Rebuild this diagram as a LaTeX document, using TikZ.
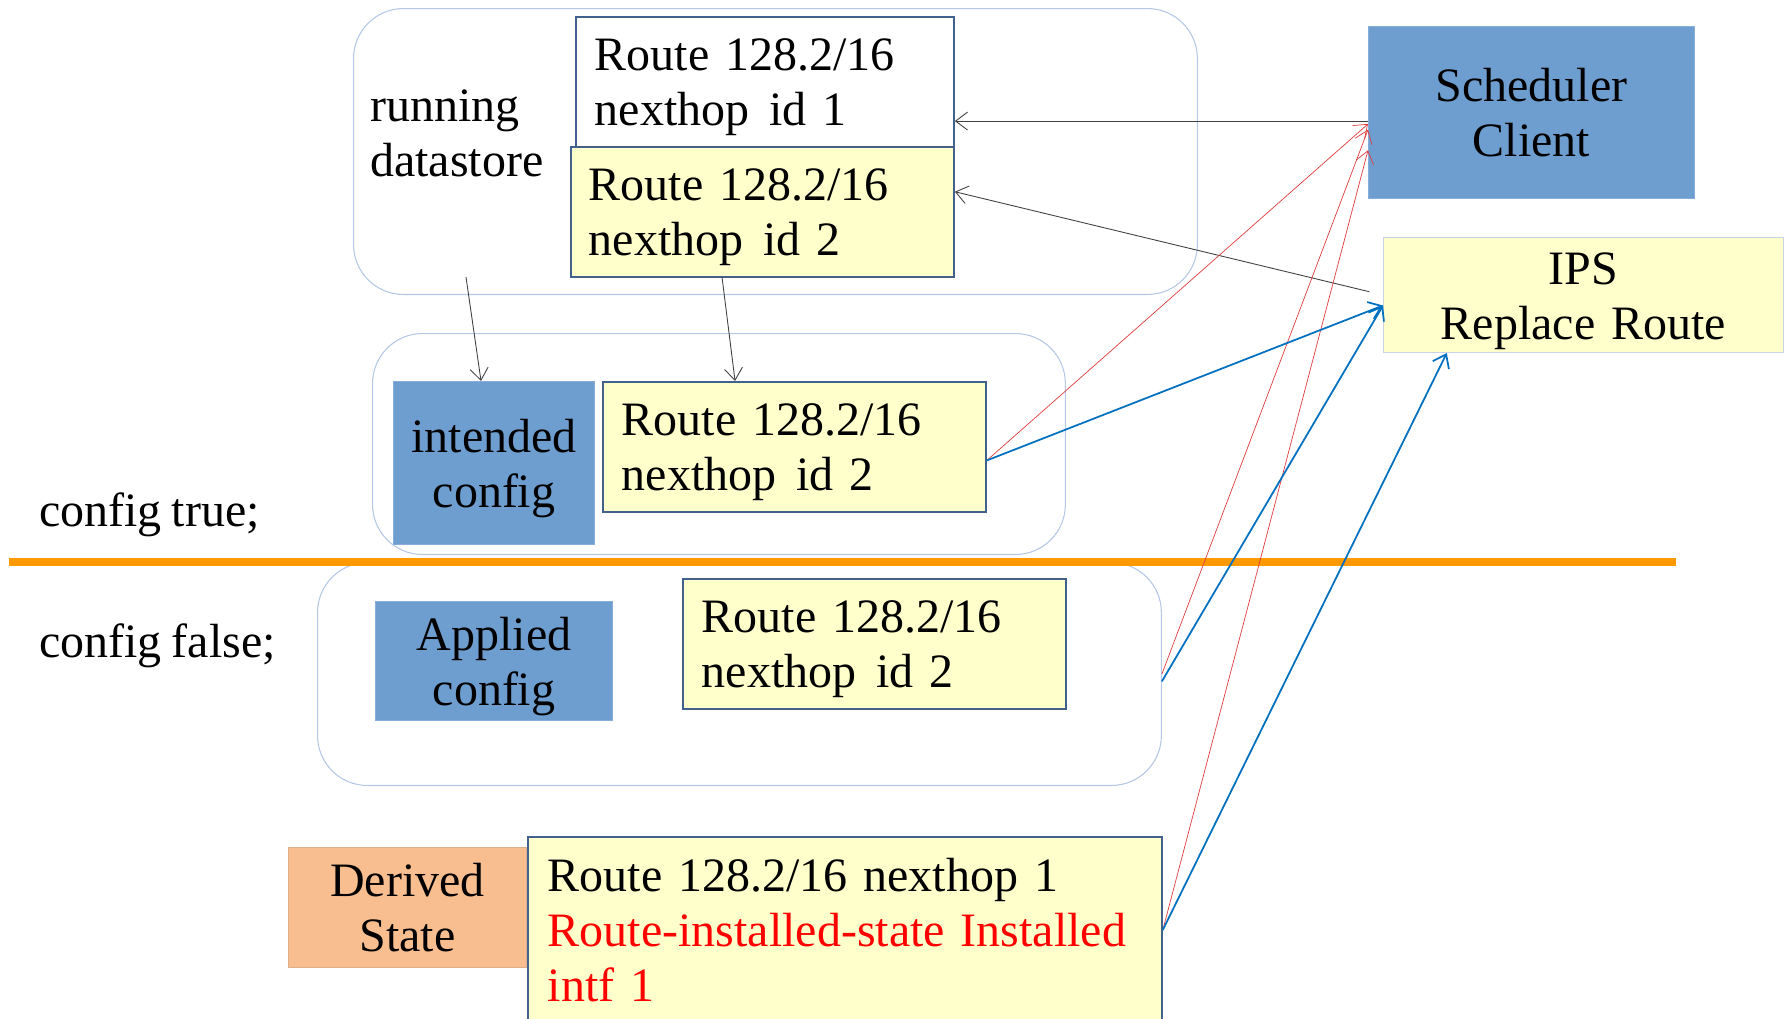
\documentclass[tikz,border=0pt]{standalone}
\usepackage{fontspec}
\setmainfont{Liberation Serif}[WordSpace=0.85]
\usepackage{tikz}
\usetikzlibrary{arrows.meta}

\definecolor{storeline}{HTML}{B4C7E7}
\definecolor{routeline}{HTML}{41628F}
\definecolor{routefill}{HTML}{FFFFCC}
\definecolor{tagblue}{HTML}{6E9ECF}
\definecolor{tagline}{HTML}{86AEDB}
\definecolor{ipsline}{HTML}{C9D3E3}
\definecolor{peach}{HTML}{F8BE8F}
\definecolor{peachline}{HTML}{DDB08C}
\definecolor{sepcolor}{HTML}{FF9900}
\definecolor{linkred}{HTML}{E03C3C}
\definecolor{linkblue}{HTML}{0070C0}
\definecolor{linkgray}{HTML}{404040}

\begin{document}
\begin{tikzpicture}[x=0.02cm, y=-0.02cm,
    font=\fontsize{27.3}{31.3}\selectfont,
    store/.style={draw=storeline, line width=0.6pt, rounded corners=1cm, anchor=north west, inner sep=0pt},
    textdrop/.style={execute at begin node={\rule{0pt}{#1}}},
    routebase/.style={draw=routeline, fill=routefill, line width=1.1pt, anchor=north west, inner sep=0pt, align=left},
    route/.style={routebase, textdrop=0.84cm},
    tag/.style={draw=tagline, fill=tagblue, line width=0.6pt, anchor=north west, inner sep=0pt, align=center},
    arr/.style={-{Straight Barb[length=2.4mm,width=3.6mm]}, draw=linkgray, line width=0.5pt},
    redarr/.style={arr, draw=linkred, line width=0.4pt},
    bluearr/.style={arr, draw=linkblue, line width=1pt}
]
    \useasboundingbox (0,0) rectangle (1788,1018);

    % Datastore outlines
    \node[store, minimum width=16.88cm, minimum height=5.72cm] (running) at (353,8) {};
    \node[store, minimum width=13.86cm, minimum height=4.42cm] (intended) at (372,333) {};
    \node[store, minimum width=16.88cm, minimum height=4.46cm] (applied) at (317,562) {};

    % Separator
    \draw[sepcolor, line width=0.16cm] (9,562) -- (1676,562);

    % Labels
    \node[anchor=west, align=left] (runlbl) at (364,133) {running\\datastore};
    \node[anchor=west] (cfgtrue) at (33,515) {config true;};
    \node[anchor=west] (cfgfalse) at (33,646) {config false;};

    % Route entries
    \node[route, fill=white, minimum width=7.56cm, minimum height=2.6cm, text width=6.8cm] (box1) at (575,16)
        {Route 128.2/16\\nexthop\hspace{0.42em}id 1};
    \node[route, minimum width=7.66cm, minimum height=2.6cm, text width=6.94cm] (box2) at (570,146)
        {Route 128.2/16\\nexthop\hspace{0.42em}id 2};
    \node[route, minimum width=7.66cm, minimum height=2.6cm, text width=6.9cm] (box3) at (602,381)
        {Route 128.2/16\\nexthop\hspace{0.42em}id 2};
    \node[route, minimum width=7.66cm, minimum height=2.6cm, text width=6.9cm] (box4) at (682,578)
        {Route 128.2/16\\nexthop\hspace{0.42em}id 2};
    \node[routebase, minimum width=12.68cm, minimum height=3.72cm, text width=11.88cm] (big) at (527,836)
        {Route 128.2/16 nexthop 1\\\textcolor{red}{Route-installed-state Installed}\\\textcolor{red}{intf 1}};

    % Tags
    \node[tag, textdrop=0.88cm, minimum width=4.02cm, minimum height=3.26cm, text width=4.02cm] (intcfg) at (393,381)
        {intended\\config};
    \node[tag, textdrop=0.88cm, minimum width=4.74cm, minimum height=2.38cm, text width=4.74cm] (appcfg) at (375,601)
        {Applied\\config};
    \node[tag, draw=peachline, fill=peach, minimum width=4.76cm, minimum height=2.4cm] (derived) at (288,847)
        {Derived\\State};

    % Clients
    \node[tag, minimum width=6.52cm, minimum height=3.44cm] (sched) at (1368,26) {Scheduler\\Client};
    \node[tag, textdrop=0.88cm, draw=ipsline, fill=routefill, minimum width=8cm, minimum height=2.3cm, text width=8cm]
        (ips) at (1383,237) {IPS\\Replace Route};

    % Black arrows
    \coordinate (rs1) at (466,277);
    \coordinate (rs2) at (722,277);
    \draw[arr] (sched.183.5) -- (sched.183.5 -| box1.east);
    \draw[arr, shorten <=0.28cm] (ips.west) -- (box2.6.8);
    \draw[arr] (rs1) -- (intcfg.99.4);
    \draw[arr] (rs2) -- (box3.132);

    % Red arrows
    \draw[redarr] (box3.-4.5) -- (sched.184.6);
    \draw[redarr] (applied.east) -- (sched.186.7);
    \draw[redarr] (big.east) -- (sched.193.1);

    % Blue arrows
    \draw[bluearr] (box3.-4.5) -- (ips.183.3);
    \draw[bluearr] (applied.-1.7) -- (ips.183.3);
    \draw[bluearr] (big.east) -- (ips.203.4);
\end{tikzpicture}
\end{document}
